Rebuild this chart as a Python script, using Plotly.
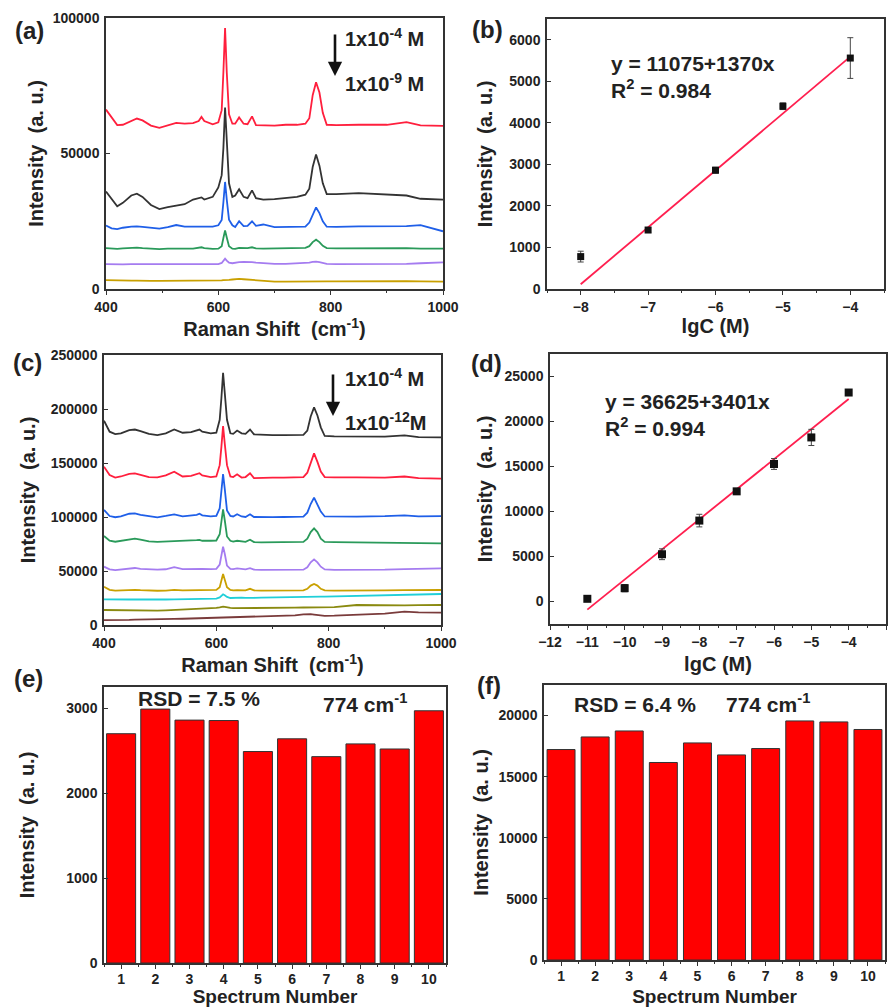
import plotly.graph_objects as go

# ---------------- data ----------------
shift = [400, 410, 420, 430, 445, 455, 465, 480, 495, 510, 525, 540, 555, 565, 570, 575, 590, 600,
         606, 609, 612, 615, 619, 625, 630, 637, 645, 652, 660, 667, 680, 700, 720, 740, 755, 762,
         768, 774, 780, 786, 793, 810, 850, 900, 935, 960, 1000]

# panel (a) spectra, intensities in thousands
a_red = [66.2, 63.5, 60.5, 60.6, 62.0, 62.9, 62.2, 60.3, 59.5, 60.5, 61.3, 61.0, 61.2, 62.0, 63.5, 62.0, 60.8, 61.5,
         66.0, 80.0, 96.3, 80.0, 64.5, 61.0, 61.0, 63.3, 61.0, 60.8, 63.7, 60.5, 60.5, 60.3, 60.6, 60.6, 61.0, 63.0,
         71.5, 76.3, 72.5, 65.0, 60.6, 60.5, 60.6, 60.6, 61.6, 60.4, 60.2]
a_black = [36.0, 33.2, 30.5, 31.8, 34.5, 35.2, 34.0, 31.0, 29.5, 30.2, 30.8, 31.3, 33.0, 33.5, 33.8, 33.0, 34.0, 37.5,
           42.0, 52.0, 67.0, 55.0, 39.0, 34.0, 34.5, 36.8, 34.0, 33.5, 36.4, 33.5, 33.0, 33.2, 33.5, 34.0, 34.8, 37.0,
           45.0, 49.6, 45.5, 39.0, 35.0, 35.0, 35.4, 34.8, 34.5, 33.3, 33.0]
a_blue = [23.4, 22.4, 22.1, 22.6, 23.0, 23.1, 22.9, 22.5, 22.3, 22.8, 23.6, 23.0, 23.0, 23.1, 23.0, 22.9, 23.0, 23.5,
          25.5, 32.0, 39.5, 33.0, 25.6, 23.5, 22.9, 25.0, 23.2, 23.3, 25.0, 23.3, 23.8, 22.8, 22.9, 22.9, 23.0, 24.5,
          27.5, 30.1, 28.0, 25.0, 23.0, 22.9, 23.1, 23.0, 23.2, 23.6, 21.3]
a_green = [15.1, 15.0, 14.8, 15.0, 15.2, 15.3, 15.1, 14.8, 14.7, 14.9, 15.0, 14.9, 14.9, 15.2, 15.4, 15.1, 14.8, 14.9,
           15.8, 18.8, 21.6, 19.0, 15.8, 14.9, 14.8, 15.2, 15.0, 15.1, 15.4, 15.0, 14.9, 15.0, 15.0, 15.1, 15.2, 15.8,
           17.3, 18.2, 17.3, 15.9, 15.1, 15.0, 15.1, 15.0, 15.1, 14.9, 14.9]
a_violet = [9.2, 9.1, 9.0, 9.1, 9.2, 9.2, 9.1, 9.0, 9.0, 9.1, 9.1, 9.1, 9.1, 9.2, 9.2, 9.1, 9.1, 9.2,
            9.6, 10.5, 11.2, 10.5, 9.7, 9.5, 9.7, 9.9, 10.0, 10.0, 9.9, 9.7, 9.5, 9.3, 9.3, 9.4, 9.5, 9.7,
            10.0, 10.1, 9.9, 9.6, 9.3, 9.2, 9.2, 9.1, 9.3, 9.5, 9.8]
a_gold = [3.3, 3.2, 3.2, 3.1, 3.1, 3.1, 3.0, 3.0, 3.0, 3.0, 3.0, 3.0, 3.0, 3.0, 3.0, 3.0, 3.0, 3.1,
          3.2, 3.3, 3.4, 3.4, 3.4, 3.5, 3.6, 3.7, 3.6, 3.5, 3.3, 3.1, 2.9, 2.7, 2.7, 2.8, 2.8, 2.8,
          2.9, 2.9, 2.9, 2.8, 2.8, 2.8, 2.9, 3.0, 2.9, 2.8, 2.7]

# panel (c) spectra, intensities in thousands
c_black = [189.2, 179.0, 176.8, 177.5, 180.5, 181.0, 179.5, 177.0, 175.9, 177.5, 181.0, 178.0, 178.5, 180.0, 181.0, 179.0, 177.5, 178.0,
           190.0, 210.0, 233.6, 215.0, 190.0, 177.5, 177.0, 180.0, 177.5, 177.0, 181.0, 176.5, 176.0, 175.9, 175.8, 175.9, 176.0, 180.0,
           193.0, 201.5, 194.0, 183.0, 175.0, 174.6, 174.4, 174.5, 175.5, 174.0, 173.7]
c_red = [146.6, 138.9, 136.5, 137.5, 140.0, 140.4, 139.0, 137.0, 136.7, 138.5, 142.0, 137.5, 138.0, 139.5, 140.5, 138.5, 137.0, 137.5,
         148.0, 165.0, 184.2, 168.0, 148.0, 137.5, 137.0, 139.5, 136.5, 137.0, 140.5, 136.0, 136.3, 136.5, 136.5, 136.8, 137.0, 141.0,
         151.0, 158.9, 151.0, 142.0, 137.0, 136.6, 136.7, 136.5, 137.5, 136.0, 135.5]
c_blue = [106.5, 100.9, 99.8, 100.5, 103.0, 103.3, 102.0, 100.5, 99.7, 101.0, 102.5, 100.5, 101.0, 102.0, 103.0, 101.5, 100.5, 101.0,
          108.0, 124.0, 139.8, 126.0, 106.0, 101.0, 100.5, 102.5, 100.5, 100.0, 102.5, 100.0, 99.8, 99.9, 100.0, 100.0, 100.3, 104.0,
          112.0, 117.9, 112.0, 105.0, 100.5, 100.3, 100.4, 100.8, 101.5, 100.5, 100.9]
c_green = [82.4, 78.0, 77.1, 77.8, 79.5, 80.0, 79.0, 77.5, 77.0, 77.3, 77.8, 77.5, 77.8, 78.5, 78.8, 78.0, 78.0, 78.2,
           84.0, 96.0, 107.1, 97.0, 82.0, 78.0, 77.2, 78.0, 77.5, 77.0, 79.0, 76.8, 76.5, 76.5, 76.6, 76.8, 77.0, 80.0,
           86.0, 89.5, 86.0, 80.0, 77.0, 76.8, 76.5, 76.2, 76.5, 76.0, 75.6]
c_violet = [54.0, 51.5, 50.9, 51.3, 52.5, 52.8, 52.0, 51.3, 51.2, 51.6, 53.5, 51.8, 52.0, 52.3, 52.5, 52.0, 51.8, 52.0,
            56.0, 64.0, 72.5, 66.0, 55.0, 52.0, 51.8, 52.5, 52.0, 51.5, 52.6, 51.3, 51.0, 50.9, 50.9, 51.0, 51.2, 53.5,
            58.0, 60.8, 58.0, 54.0, 51.5, 51.0, 50.8, 51.2, 51.8, 52.2, 52.5]
c_gold = [35.5, 32.5, 31.8, 32.0, 32.5, 32.6, 32.2, 31.8, 31.7, 31.9, 32.5, 32.0, 32.0, 32.3, 32.4, 32.1, 32.2, 32.5,
          35.0, 41.0, 47.2, 42.0, 35.0, 32.5, 32.0, 32.2, 32.0, 32.0, 33.5, 32.0, 31.8, 31.8, 31.8, 31.9, 32.0, 33.5,
          36.5, 38.0, 36.5, 33.5, 32.0, 31.9, 31.8, 32.0, 32.3, 32.4, 32.4]
c_cyan = [23.8, 23.6, 23.5, 23.5, 23.6, 23.7, 23.6, 23.5, 23.5, 23.6, 23.8, 23.8, 23.9, 24.0, 24.1, 24.0, 24.2, 24.4,
          25.5, 27.0, 28.4, 27.5, 26.0, 25.0, 25.2, 25.6, 25.3, 25.2, 25.5, 25.2, 25.3, 25.5, 25.6, 25.8, 26.0, 26.3,
          26.7, 26.8, 26.6, 26.3, 26.2, 26.4, 26.8, 27.3, 27.8, 28.2, 28.7]
c_olive = [13.9, 13.8, 13.6, 13.5, 13.5, 13.6, 13.5, 13.4, 13.3, 13.6, 13.9, 14.3, 14.8, 15.0, 15.2, 15.3, 15.5, 15.8,
           16.3, 16.8, 17.0, 16.7, 16.2, 15.8, 15.6, 15.6, 15.7, 15.6, 15.7, 15.6, 15.5, 15.6, 15.8, 16.0, 16.2, 16.3,
           16.5, 16.5, 16.5, 16.4, 16.4, 16.6, 18.5, 18.0, 18.2, 18.4, 18.5]
c_brown = [4.6, 4.5, 4.4, 4.6, 4.8, 5.0, 5.0, 5.1, 5.2, 5.4, 5.6, 5.8, 6.0, 6.2, 6.3, 6.4, 6.6, 6.8,
           7.0, 7.1, 7.3, 7.3, 7.3, 7.4, 7.5, 7.6, 7.7, 7.8, 7.9, 8.0, 8.2, 8.4, 8.6, 9.0, 9.8, 10.2,
           10.0, 9.6, 9.2, 8.8, 8.5, 8.6, 9.6, 10.6, 12.3, 11.6, 11.4]

# panel (b) calibration
b_lgc = [-8, -7, -6, -5, -4]
b_int = [780, 1420, 2860, 4400, 5560]
b_err = [130, 60, 70, 80, 490]
b_fit_x = [-8, -4]
b_fit_y = [115, 5595]

# panel (d) calibration
d_lgc = [-11, -10, -9, -8, -7, -6, -5, -4]
d_int = [300, 1480, 5250, 8990, 12240, 15280, 18230, 23220]
d_err = [150, 400, 600, 700, 300, 600, 900, 200]
d_fit_x = [-11, -4]
d_fit_y = [-900, 22500]

# panels (e), (f) reproducibility
spec_no = [1, 2, 3, 4, 5, 6, 7, 8, 9, 10]
e_int = [2700, 2990, 2860, 2855, 2490, 2640, 2430, 2580, 2520, 2970]
f_int = [17220, 18250, 18740, 16160, 17760, 16780, 17300, 19560, 19480, 18860]

# ---------------- styling helpers ----------------
W, H = 890, 1007
FONT = "Arial, Liberation Sans, sans-serif"
AXC = "#333333"


def px(x):
    return x / W


def py(y):
    return 1 - y / H


fig = go.Figure()

a_cols = ["#ff1f3d", "#333333", "#1f5fe8", "#2a9a5a", "#a57cf0", "#c9a000"]
a_series = [a_red, a_black, a_blue, a_green, a_violet, a_gold]
for s, c in zip(a_series, a_cols):
    fig.add_trace(go.Scatter(x=shift, y=[v * 1000 for v in s], mode="lines",
                             line=dict(color=c, width=1.8), xaxis="x", yaxis="y"))

c_cols = ["#333333", "#ff1f3d", "#1f5fe8", "#2a9a5a", "#a57cf0", "#c9a000", "#20cfd8", "#8a8a10", "#7a3b3b"]
c_series = [c_black, c_red, c_blue, c_green, c_violet, c_gold, c_cyan, c_olive, c_brown]
for s, c in zip(c_series, c_cols):
    fig.add_trace(go.Scatter(x=shift, y=[v * 1000 for v in s], mode="lines",
                             line=dict(color=c, width=1.8), xaxis="x3", yaxis="y3"))

# (b)
fig.add_trace(go.Scatter(x=b_fit_x, y=b_fit_y, mode="lines", line=dict(color="#ff1f4f", width=1.8),
                         xaxis="x2", yaxis="y2"))
fig.add_trace(go.Scatter(x=b_lgc, y=b_int, mode="markers",
                         marker=dict(symbol="square", size=7, color="#111111"),
                         error_y=dict(type="data", array=b_err, color="#444444", thickness=1, width=3),
                         xaxis="x2", yaxis="y2"))
# (d)
fig.add_trace(go.Scatter(x=d_fit_x, y=d_fit_y, mode="lines", line=dict(color="#ff1f4f", width=1.8),
                         xaxis="x4", yaxis="y4"))
fig.add_trace(go.Scatter(x=d_lgc, y=d_int, mode="markers",
                         marker=dict(symbol="square", size=8, color="#111111"),
                         error_y=dict(type="data", array=d_err, color="#444444", thickness=1, width=3),
                         xaxis="x4", yaxis="y4"))
# (e), (f)
fig.add_trace(go.Bar(x=spec_no, y=e_int, width=0.85, marker=dict(color="#ff0000", line=dict(color="#333333", width=1)),
                     xaxis="x5", yaxis="y5"))
fig.add_trace(go.Bar(x=spec_no, y=f_int, width=0.82, marker=dict(color="#ff0000", line=dict(color="#333333", width=1)),
                     xaxis="x6", yaxis="y6"))


def xax(anchor, x0, x1, rng, dtick, title, standoff, tsize=20, lstand=0):
    return dict(anchor=anchor, domain=[px(x0), px(x1)], range=rng, showline=True, linecolor=AXC, linewidth=1.5,
                mirror=True, ticks="outside", ticklen=4, tickcolor=AXC, tickwidth=1.2, showgrid=False,
                zeroline=False, tickformat="d", tick0=0, dtick=dtick, ticklabelstandoff=lstand,
                tickfont=dict(family=FONT, size=14, color="#222", weight="bold"),
                title=dict(text=title, font=dict(family=FONT, size=tsize, color="#222", weight="bold"),
                           standoff=standoff),
                minor=dict(ticks="outside", ticklen=2, tickcolor=AXC, dtick=dtick / 2, showgrid=False),
                automargin=False)


def yax(anchor, y0, y1, rng, dtick, standoff):
    return dict(anchor=anchor, domain=[py(y1), py(y0)], range=rng, showline=True, linecolor=AXC, linewidth=1.5,
                mirror=True, ticks="inside", ticklen=4, tickcolor=AXC, tickwidth=1.2, showgrid=False,
                zeroline=False, tickformat="d", tick0=0, dtick=dtick, ticklabelstandoff=2,
                tickfont=dict(family=FONT, size=14, color="#222", weight="bold"),
                title=dict(text="Intensity&nbsp; (a. u.)",
                           font=dict(family=FONT, size=20, color="#222", weight="bold"),
                           standoff=standoff),
                automargin=False)


raman = "Raman Shift&nbsp; (cm<sup>-1</sup>)"
lay = dict(
    width=W, height=H, margin=dict(l=0, r=0, t=0, b=0), paper_bgcolor="white", plot_bgcolor="white",
    showlegend=False, font=dict(family=FONT, color="#222"),
    xaxis=xax("y", 106, 443, [400, 1000], 200, raman, 0),
    yaxis=yax("x", 18, 289, [0, 100000], 50000, 4),
    xaxis2=xax("y2", 547, 884, [-8.5, -3.5], 1, "lgC (M)", 5),
    yaxis2=yax("x2", 19, 289, [0, 6500], 1000, 11),
    xaxis3=xax("y3", 104, 441, [400, 1000], 200, raman, 0),
    yaxis3=yax("x3", 355, 625, [0, 250000], 50000, 10),
    xaxis4=xax("y4", 550, 886, [-12, -3], 1, "lgC (M)", 8),
    yaxis4=yax("x4", 354, 624, [-2500, 27500], 5000, 7),
    xaxis5=xax("y5", 104, 446, [0.5, 10.5], 1, "Spectrum Number", 8, 19, -2),
    yaxis5=yax("x5", 687, 963, [0, 3250], 1000, 26),
    xaxis6=xax("y6", 544, 885, [0.5, 10.5], 1, "Spectrum Number", 8, 19, -2),
    yaxis6=yax("x6", 685, 960, [0, 22500], 5000, 5),
)
fig.update_layout(**lay)

ann = []


def text(x, y, t, size=21, xanchor="left"):
    ann.append(dict(x=px(x), y=py(y), xref="paper", yref="paper", text=t, showarrow=False,
                    xanchor=xanchor, yanchor="middle",
                    font=dict(family=FONT, size=size, color="#222", weight="bold")))


# panel labels
for lab, (x, y) in {"(a)": (29, 30), "(b)": (487, 29), "(c)": (27, 363), "(d)": (486, 364),
                    "(e)": (28, 678), "(f)": (489, 685)}.items():
    text(x, y, lab, size=24, xanchor="center")

# concentration labels + arrows
text(343, 38, "1x10<sup>-4</sup> M", 20)
text(343, 82, "1x10<sup>-9</sup> M", 20)
text(343, 377, "1x10<sup>-4</sup> M", 20)
text(343, 422, "1x10<sup>-12</sup>M", 20)
for (xa, ya0, ya1) in [(335, 33, 76), (333, 373, 416)]:
    ann.append(dict(x=px(xa), y=py(ya1), xref="paper", yref="paper", ax=0, ay=-(ya1 - ya0),
                    axref="pixel", ayref="pixel", text="", showarrow=True, arrowhead=2, arrowsize=1.1,
                    arrowwidth=2.6, arrowcolor="#111"))

# equations
text(609, 64, "y = 11075+1370x")
text(609, 89, "R<sup>2</sup> = 0.984")
text(603, 402, "y = 36625+3401x")
text(603, 427, "R<sup>2</sup> = 0.994")

# RSD
text(136, 698, "RSD = 7.5 %")
text(321, 703, "774 cm<sup>-1</sup>")
text(572, 704, "RSD = 6.4 %")
text(724, 703, "774 cm<sup>-1</sup>")

fig.update_layout(annotations=ann)
fig.write_html("out.html", config={"displayModeBar": False},
               post_script="document.body.style.margin='0px';")
